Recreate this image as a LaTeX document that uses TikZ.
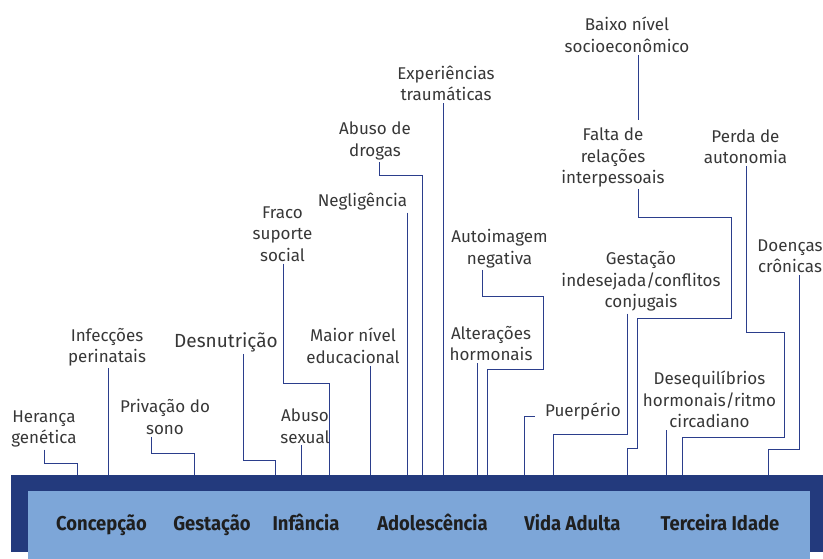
\documentclass[tikz,border=0pt]{standalone}
\usepackage{fontspec}
\setmainfont{Fira Sans}
\newfontfamily\stagefont[FakeStretch=0.92]{Fira Sans}
\usepackage{xcolor}
\usetikzlibrary{positioning}

\definecolor{bandnavy}{RGB}{35,58,125}
\definecolor{bandlight}{RGB}{125,166,216}
\definecolor{linkblue}{RGB}{43,62,140}
\definecolor{txtgray}{RGB}{55,55,55}

\tikzset{
  lbl/.style={align=center, inner sep=2pt, text=txtgray, font=\fontsize{17}{21.5}\selectfont},
  stage/.style={anchor=base, text=black!88, font=\stagefont\bfseries\fontsize{20}{24}\selectfont},
  link/.style={draw=linkblue, line width=1pt}
}

\begin{document}
\begin{tikzpicture}[x=1pt,y=-1pt]
    \useasboundingbox (0,0) rectangle (823,559);

    % Band
    \fill[bandnavy] (11,475) rectangle (823,552);
    \fill[bandlight] (28,491) rectangle (810,559);

    % Life stages
    \foreach \n/\x/\t in {conc/101.5/Concepção, gest/212/Gestação, infa/306/Infância, adol/432.5/Adolescência, vida/572.5/Vida Adulta, terc/720/Terceira Idade}
        \node[stage] (st-\n) at (\x,530.5) {\t};

    % Factors
    \node[lbl] (her)   at (44,429)    {Herança\\genética};
    \node[lbl] (infec) at (107,347)   {Infecções\\perinatais};
    \node[lbl] (priv)  at (165,417)   {Privação do\\sono};
    \node[lbl, font=\fontsize{19}{24}\selectfont] (desn) at (226,342) {Desnutrição};
    \node[lbl] (fraco) at (282.5,234) {Fraco\\suporte\\social};
    \node[lbl] (absex) at (305,426)   {Abuso\\sexual};
    \node[lbl] (maior) at (353,346)   {Maior nível\\educacional};
    \node[lbl] (negl)  at (362.5,202) {Negligência};
    \node[lbl] (drog)  at (375,141)   {Abuso de\\drogas};
    \node[lbl] (exper) at (446,83.5)  {Experiências\\traumáticas};
    \node[lbl] (auto)  at (499.5,248.5) {Autoimagem\\negativa};
    \node[lbl] (alter) at (491,343.5) {Alterações\\hormonais};
    \node[lbl] (puer)  at (583,412)   {Puerpério};
    \node[lbl] (gind)  at (641,281.5) {Gestação\\indesejada/conflitos\\conjugais};
    \node[lbl] (falta) at (613,157.5) {Falta de\\relações\\interpessoais};
    \node[lbl] (baixo) at (627,35)    {Baixo nível\\socioeconômico};
    \node[lbl] (perda) at (745.5,146.5) {Perda de\\autonomia};
    \node[lbl] (deseq) at (709.5,399.5) {Desequilíbrios\\hormonais/ritmo\\circadiano};
    \node[lbl] (doenc) at (790,256)   {Doenças\\crônicas};

    % Ends on the band
    \foreach \n/\x in {her/77, infec/108, priv/194, desn/275, fraco/329, absex/301, maior/370, negl/407, drog/422, exper/443, auto/487, alter/477, puer/524, gind/553, falta/627, perda/682, deseq/666, doenc/768}
        \coordinate (\n-b) at (\x,475);

    % Straight links
    \foreach \n in {infec, absex, maior, negl, exper, alter, deseq}
        \draw[link] (\n.south -| \n-b) -- (\n-b);

    % One bend
    \foreach \n/\sx/\ey in {her/44/463, priv/151/453, desn/243/460, fraco/283/383, drog/379/176, gind/627/434, doenc/799/449}
        \draw[link] (\n.south -| \sx,0) |- (\n-b |- 0,\ey) -- (\n-b);

    % Several bends
    \draw[link] (auto.south -| 482,0) |- (543,296) |- (auto-b |- 0,369) -- (auto-b);
    \draw[link] (falta.south -| 638,0) |- (731,218) |- (637,318) |- (falta-b |- 0,448) -- (falta-b);
    \draw[link] (perda.south -| 746,0) |- (784,332) |- (perda-b |- 0,437) -- (perda-b);
    \draw[link] ([xshift=-8pt]puer.base west) -| (puer-b);
    \draw[link, shorten >=6pt] (baixo.south -| 638,0) -- (falta.north -| 638,0);
\end{tikzpicture}
\end{document}
